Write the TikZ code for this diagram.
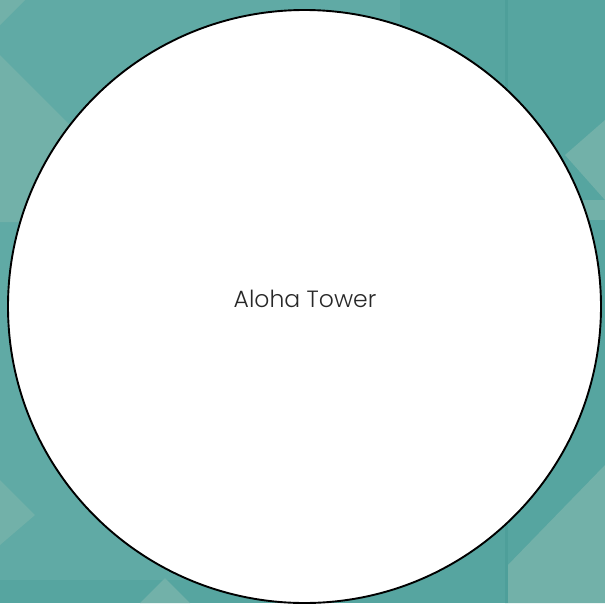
\documentclass[tikz,border=0pt]{standalone}
\usepackage{fontspec}
\setmainfont{Poppins}[UprightFont=* Light]
\definecolor{tealbase}{RGB}{96,170,165}
\definecolor{tealdark}{RGB}{86,165,160}
\definecolor{teallight}{RGB}{114,177,169}
\definecolor{tealline}{RGB}{78,159,154}
\definecolor{textgrey}{RGB}{40,40,40}
\tikzset{
  bg/.style={fill=tealbase, draw=none},
  lightpatch/.style={fill=teallight, draw=none},
  darkpatch/.style={fill=tealdark, draw=none},
  towercircle/.style={circle, draw=black, line width=1.9pt, fill=white, minimum size=593pt, inner sep=0pt},
  towertext/.style={font=\fontsize{23.5}{27}\selectfont, text=textgrey, inner sep=0pt}
}
\begin{document}
\begin{tikzpicture}[x=1pt,y=-1pt]
\useasboundingbox (0,0) rectangle (605,603);
% background pattern
\fill[bg] (0,0) rectangle (605,603);
\fill[darkpatch] (400,0) rectangle (605,603);
\fill[lightpatch] (0,55) -- (70,125) -- (200,250) -- (200,222) -- (0,222) -- cycle;
\fill[lightpatch] (0,0) -- (25,0) -- (0,25) -- cycle;
\fill[lightpatch] (605,120) -- (565,155) -- (605,200) -- cycle;
\fill[lightpatch] (520,200) rectangle (605,220);
\fill[lightpatch] (605,465) -- (505,568) -- (505,603) -- (605,603) -- cycle;
\fill[lightpatch] (0,480) -- (35,515) -- (0,545) -- cycle;
\fill[tealdark] (0,580) rectangle (605,603);
\fill[lightpatch] (505,580) rectangle (605,603);
\fill[lightpatch] (140,603) -- (165,578) -- (190,603) -- cycle;
\fill[tealline] (505,0) rectangle (508,603);
% main circle
\node[towercircle] (tower) at (304.5,306.5) {};
\node[towertext] (towerlabel) at (305,299) {Aloha Tower};
\end{tikzpicture}
\end{document}
